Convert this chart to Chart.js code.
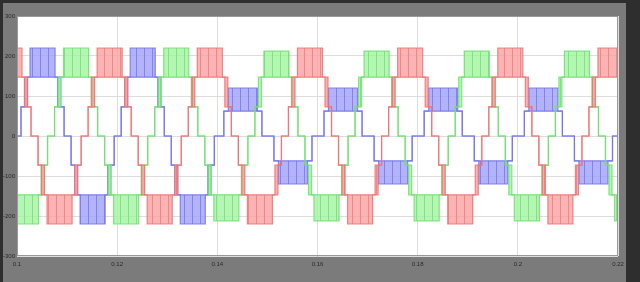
<!DOCTYPE html>
<html><head><meta charset="utf-8">
<script src="https://cdn.jsdelivr.net/npm/chart.js@4.4.0/dist/chart.umd.min.js"></script>
<style>html,body{margin:0;padding:0;background:#7b7b7b;overflow:hidden}canvas{display:block}</style>
</head><body><canvas id="c" width="640" height="282"></canvas>
<script>
// tick labels
const xTickLabels = ['0.1','0.12','0.14','0.16','0.18','0.2','0.22'];
const yTickLabels = ['-300','-200','-100','0','100','200','300']; // bottom -> top

// phase voltages: [time, upper level, lower level]; lower omitted = same as upper
// (upper != lower marks a PWM switching band)
const phaseRed = [
[0,220,147],[5,147],[7.5,147,73],[10.5,73],[14,0],[21,-73],[24.5,-73,-147],[27.5,-147],[30,-147,-220],[55,-147],[57.5,-73,-147],[60.5,-73],[64,0],[71,73],[74.5,147,73],[77.5,147],
[80,220,147],[105,147],[107.5,147,73],[110.5,73],[114,0],[121,-73],[124.5,-73,-147],[127.5,-147],[130,-147,-220],[155,-147],[157.5,-73,-147],[160.5,-73],[164,0],[171,73],[174.5,147,73],[177.5,147],
[180,220,147],[205,147],[207.5,147,73],[210.5,73],[214,0],[221,-73],[224.5,-73,-147],[227.5,-147],[230,-147,-220],[255,-147],[257.5,-73,-147],[260.5,-73],[264,0],[271,73],[274.5,147,73],[277.5,147],
[280,220,147],[305,147],[307.5,147,73],[310.5,73],[314,0],[321,-73],[324.5,-73,-147],[327.5,-147],[330,-147,-220],[355,-147],[357.5,-73,-147],[360.5,-73],[364,0],[371,73],[374.5,147,73],[377.5,147],
[380,220,147],[405,147],[407.5,147,73],[410.5,73],[414,0],[421,-73],[424.5,-73,-147],[427.5,-147],[430,-147,-220],[455,-147],[457.5,-73,-147],[460.5,-73],[464,0],[471,73],[474.5,147,73],[477.5,147],
[480,220,147],[505,147],[507.5,147,73],[510.5,73],[514,0],[521,-73],[524.5,-73,-147],[527.5,-147],[530,-147,-220],[555,-147],[557.5,-73,-147],[560.5,-73],[564,0],[571,73],[574.5,147,73],[577.5,147],
[580,220,147],[600,220,147]
];
const phaseGreen = [
[0,-147,-220],[21.5,-147],[24,-73,-147],[27,-73],[30.5,0],[37.5,73],[41,147,73],[44,147],[46.5,220,147],[71.5,147],[74,147,73],[77,73],[80.5,0],[87.5,-73],[91,-73,-147],[94,-147],
[96.5,-147,-220],[121.5,-147],[124,-73,-147],[127,-73],[130.5,0],[137.5,73],[141,147,73],[144,147],[146.5,220,147],[171.5,147],[174,147,73],[177,73],[180.5,0],[187.5,-73],[191,-73,-147],[194,-147],
[196.5,-147,-212],[221.5,-147],[224,-73,-147],[227,-73],[230.5,0],[237.5,73],[241,147,73],[244,147],[246.5,212,147],[271.5,147],[274,147,73],[277,73],[280.5,0],[287.5,-73],[291,-73,-147],[294,-147],
[296.5,-147,-212],[321.5,-147],[324,-73,-147],[327,-73],[330.5,0],[337.5,73],[341,147,73],[344,147],[346.5,212,147],[371.5,147],[374,147,73],[377,73],[380.5,0],[387.5,-73],[391,-73,-147],[394,-147],
[396.5,-147,-212],[421.5,-147],[424,-73,-147],[427,-73],[430.5,0],[437.5,73],[441,147,73],[444,147],[446.5,212,147],[471.5,147],[474,147,73],[477,73],[480.5,0],[487.5,-73],[491,-73,-147],[494,-147],
[496.5,-147,-212],[521.5,-147],[524,-73,-147],[527,-73],[530.5,0],[537.5,73],[541,147,73],[544,147],[546.5,212,147],[571.5,147],[574,147,73],[577,73],[580.5,0],[587.5,-73],[591,-73,-147],[594,-147],
[596.5,-147,-212],[600,-147,-212]
];
const phaseBlue = [
[0,0],[4,73],[7.5,147,73],[10.5,147],[13,220,147],[38,147],[40.5,147,73],[43.5,73],[47,0],[54,-73],[57.5,-73,-147],[60.5,-147],[63,-147,-220],[88,-147],[90.5,-73,-147],[93.5,-73],[97,0],
[104,73],[107.5,147,73],[110.5,147],[113,220,147],[138,147],[140.5,147,73],[143.5,73],[147,0],[154,-73],[157.5,-73,-147],[160.5,-147],[163,-147,-220],[188,-147],[190.5,-73,-147],[193.5,-73],[197,0],
[206.5,62],[211,120,62],[240,62],[244.5,0],[256.5,-62],[261,-62,-120],[290,-62],[294.5,0],
[306.5,62],[311,120,62],[340,62],[344.5,0],[356.5,-62],[361,-62,-120],[390,-62],[394.5,0],
[406.5,62],[411,120,62],[440,62],[444.5,0],[456.5,-62],[461,-62,-120],[490,-62],[494.5,0],
[506.5,62],[511,120,62],[540,62],[544.5,0],[556.5,-62],[561,-62,-120],[590,-62],[594.5,0],[600,0]
];

// soft striped fill that imitates dense PWM switching inside a band
function stripes(base, stripe) {
  const cv = document.createElement('canvas');
  cv.width = 8; cv.height = 2;
  const g = cv.getContext('2d');
  g.fillStyle = base; g.fillRect(0, 0, 8, 2);
  g.fillStyle = stripe; g.fillRect(0, 0, 1, 2);
  return g.createPattern(cv, 'repeat');
}

function phaseSets(name, pts, line, fillc) {
  return [
    {label: name, data: pts.map(p => ({x: p[0], y: p[1]})), stepped: 'before',
     borderColor: line, borderWidth: 1.2, pointRadius: 0, fill: false},
    {label: name + ' lo', data: pts.map(p => ({x: p[0], y: p.length > 2 ? p[2] : p[1]})), stepped: 'before',
     borderColor: line, borderWidth: 1.2, pointRadius: 0, fill: '-1', backgroundColor: fillc}
  ];
}

const frame = {
  id: 'frame',
  beforeDraw(chart) {
    const c = chart.ctx, a = chart.chartArea;
    c.save();
    c.fillStyle = '#7b7b7b'; c.fillRect(0, 0, 640, 282);
    c.fillStyle = '#2e2e2e';
    c.fillRect(0, 0, 640, 3); c.fillRect(0, 0, 3, 282); c.fillRect(626, 0, 14, 282);
    c.fillStyle = '#ffffff'; c.fillRect(a.left, a.top, a.right - a.left, a.bottom - a.top);
    c.restore();
  },
  afterDraw(chart) {
    const c = chart.ctx, a = chart.chartArea;
    c.save(); c.strokeStyle = '#9a9a9a'; c.lineWidth = 1;
    c.strokeRect(a.left + 0.5, a.top + 0.5, a.right - a.left - 1, a.bottom - a.top - 1);
    c.restore();
  }
};

new Chart(document.getElementById('c'), {
  type: 'line',
  data: { datasets: [
    ...phaseSets('Va', phaseRed, 'rgba(238,115,115,0.85)', stripes('rgba(250,160,160,0.8)', 'rgba(238,120,120,0.75)')),
    ...phaseSets('Vb', phaseGreen, 'rgba(110,225,110,0.85)', stripes('rgba(160,245,160,0.8)', 'rgba(110,220,110,0.75)')),
    ...phaseSets('Vc', phaseBlue, 'rgba(115,115,240,0.85)', stripes('rgba(160,160,250,0.8)', 'rgba(115,115,235,0.75)'))
  ]},
  options: {
    responsive: false, animation: false, devicePixelRatio: 1,
    layout: { padding: { left: 0, right: 22, top: 16, bottom: 0 } },
    plugins: { legend: { display: false }, tooltip: { enabled: false } },
    scales: {
      x: { type: 'linear', min: 0, max: 600,
        afterFit(s) { s.height = 26; },
        grid: { color: '#dddddd', drawTicks: false },
        border: { display: false },
        ticks: { stepSize: 100, padding: 5, color: '#2a2a2a', font: { family: 'Liberation Sans', size: 6 },
          callback: (v, i) => xTickLabels[i] }
      },
      y: { min: -300, max: 300,
        afterFit(s) { s.width = 17; },
        grid: { color: '#dddddd', drawTicks: false },
        border: { display: false },
        ticks: { stepSize: 100, padding: 2, color: '#2a2a2a', font: { family: 'Liberation Sans', size: 6 },
          callback: (v, i) => yTickLabels[i] }
      }
    }
  },
  plugins: [frame]
});
</script></body></html>
